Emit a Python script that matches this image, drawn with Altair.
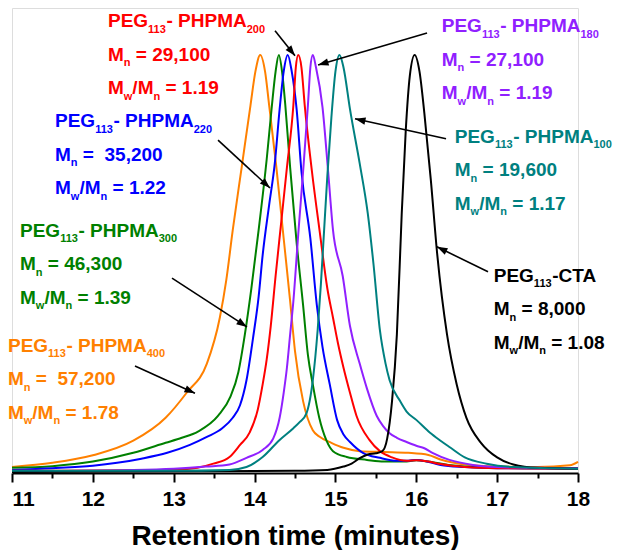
import math
import altair as alt
import pandas as pd

# ---------------- data (retention time in minutes, normalised RI response) ----------------
orange_t = [11.0, 11.5, 12.0, 12.5, 12.9, 13.16, 13.41, 13.57, 13.65, 13.73, 13.84, 13.95, 14.01, 14.07,
            14.13, 14.18, 14.27, 14.36, 14.44, 14.5, 14.6, 14.72, 14.8, 14.95, 15.1, 15.3, 15.6, 15.9,
            16.15, 16.3, 16.6, 17.0, 17.5, 17.9, 18.0]
orange_i = [0.012, 0.022, 0.04, 0.075, 0.13, 0.19, 0.26, 0.37, 0.46, 0.58, 0.73, 0.88, 0.96, 1.0,
            0.96, 0.88, 0.73, 0.56, 0.41, 0.29, 0.17, 0.10, 0.085, 0.07, 0.058, 0.05, 0.048, 0.046,
            0.041, 0.03, 0.018, 0.013, 0.012, 0.016, 0.024]

green_t = [11.0, 11.5, 12.0, 12.5, 12.9, 13.1, 13.3, 13.55, 13.7, 13.8, 13.88, 13.96, 14.05, 14.15,
           14.21, 14.26, 14.30, 14.34, 14.38, 14.44, 14.52, 14.6, 14.66, 14.72, 14.8, 14.89, 14.97,
           15.14, 15.39, 15.6, 15.85, 16.0, 16.15, 16.4, 16.8, 17.5, 18.0]
green_i = [0.01, 0.014, 0.025, 0.046, 0.07, 0.082, 0.097, 0.135, 0.18, 0.24, 0.33, 0.44, 0.58, 0.75,
           0.87, 0.96, 1.0, 0.96, 0.88, 0.73, 0.55, 0.40, 0.28, 0.21, 0.13, 0.075, 0.05,
           0.036, 0.029, 0.025, 0.025, 0.028, 0.025, 0.017, 0.011, 0.009, 0.009]

blue_t = [11.0, 11.5, 12.0, 12.3, 12.6, 12.92, 13.2, 13.41, 13.6, 13.73, 13.82, 13.9, 13.98, 14.05,
          14.1, 14.18, 14.25, 14.31, 14.36, 14.41, 14.46, 14.52, 14.58, 14.69, 14.77, 14.84, 14.93,
          15.02, 15.1, 15.18, 15.34, 15.55, 15.76, 15.9, 16.0, 16.12, 16.3, 16.6, 17.0, 18.0]
blue_i = [0.005, 0.009, 0.015, 0.022, 0.032, 0.046, 0.065, 0.084, 0.105, 0.13, 0.16, 0.22, 0.32, 0.42,
          0.52, 0.64, 0.74, 0.87, 0.96, 1.0, 0.96, 0.87, 0.72, 0.56, 0.40, 0.30, 0.21,
          0.125, 0.09, 0.072, 0.046, 0.034, 0.027, 0.027, 0.029, 0.026, 0.017, 0.012, 0.009, 0.008]

red_t = [11.0, 12.5, 13.1, 13.49, 13.69, 13.82, 13.94, 14.04, 14.1, 14.15, 14.2, 14.26, 14.33, 14.4,
         14.48, 14.51, 14.54, 14.58, 14.62, 14.71, 14.81, 14.9, 14.97, 15.03, 15.1, 15.18, 15.26,
         15.42, 15.55, 15.7, 15.88, 16.0, 16.15, 16.3, 16.6, 17.0, 18.0]
red_i = [0.003, 0.004, 0.006, 0.02, 0.036, 0.065, 0.095, 0.15, 0.21, 0.27, 0.35, 0.47, 0.60, 0.73,
         0.88, 0.97, 1.0, 0.97, 0.88, 0.72, 0.57, 0.44, 0.37, 0.31, 0.25, 0.19, 0.135,
         0.077, 0.05, 0.035, 0.027, 0.028, 0.025, 0.019, 0.012, 0.009, 0.008]

purple_t = [11.0, 12.5, 13.0, 13.4, 13.69, 13.9, 14.1, 14.23, 14.31, 14.36, 14.4, 14.44, 14.48, 14.54,
            14.6, 14.66, 14.69, 14.72, 14.76, 14.84, 14.91, 14.97, 15.09, 15.18, 15.3, 15.39, 15.51,
            15.59, 15.67, 15.76, 15.88, 16.0, 16.1, 16.2, 16.41, 16.7, 17.0, 17.5, 18.0]
purple_i = [0.002, 0.005, 0.008, 0.013, 0.018, 0.034, 0.053, 0.08, 0.13, 0.19, 0.25, 0.33, 0.41, 0.57,
            0.72, 0.88, 0.97, 1.0, 0.97, 0.875, 0.72, 0.58, 0.47, 0.35, 0.26, 0.20, 0.135,
            0.11, 0.093, 0.082, 0.072, 0.063, 0.057, 0.046, 0.029, 0.017, 0.012, 0.01, 0.009]

teal_t = [11.0, 13.0, 13.69, 13.9, 14.1, 14.31, 14.48, 14.56, 14.64, 14.72, 14.78, 14.82, 14.86, 14.9,
          14.95, 15.0, 15.05, 15.1, 15.18, 15.3, 15.4, 15.47, 15.55, 15.62, 15.67, 15.8, 15.88, 16.0,
          16.17, 16.3, 16.41, 16.6, 16.87, 17.2, 18.0]
teal_i = [0.003, 0.003, 0.005, 0.012, 0.036, 0.077, 0.105, 0.12, 0.14, 0.22, 0.34, 0.45, 0.58, 0.71,
          0.85, 0.96, 1.0, 0.97, 0.87, 0.74, 0.62, 0.50, 0.34, 0.26, 0.22, 0.17, 0.145, 0.125,
          0.094, 0.075, 0.06, 0.035, 0.02, 0.012, 0.008]

black_t = [11.0, 14.5, 14.9, 15.1, 15.2, 15.3, 15.4, 15.5, 15.58, 15.64, 15.7, 15.76, 15.82, 15.87,
           15.92, 15.98, 16.04, 16.1, 16.18, 16.26, 16.38, 16.5, 16.62, 16.8, 17.0, 17.2, 17.5, 18.0]
black_i = [0.0, 0.003, 0.005, 0.013, 0.02, 0.033, 0.042, 0.045, 0.05, 0.08, 0.17, 0.33, 0.62, 0.82,
           0.95, 1.0, 0.96, 0.86, 0.70, 0.52, 0.33, 0.21, 0.13, 0.07, 0.035, 0.018, 0.01, 0.008]

major_ticks = [11, 12, 13, 14, 15, 16, 17, 18]
minor_ticks = [11.5, 12.5, 13.5, 14.5, 15.5, 16.5, 17.5]

# annotation texts: (text, is_subscript)
lab_red = [[("PEG", 0), ("113", 1), ("- PHPMA", 0), ("200", 1)],
           [("M", 0), ("n", 1), (" = 29,100", 0)],
           [("M", 0), ("w", 1), ("/M", 0), ("n", 1), (" = 1.19", 0)]]
lab_blue = [[("PEG", 0), ("113", 1), ("- PHPMA", 0), ("220", 1)],
            [("M", 0), ("n", 1), (" =", 0), ("  35,200", 0)],
            [("M", 0), ("w", 1), ("/M", 0), ("n", 1), (" = 1.22", 0)]]
lab_green = [[("PEG", 0), ("113", 1), ("- PHPMA", 0), ("300", 1)],
             [("M", 0), ("n", 1), (" = 46,300", 0)],
             [("M", 0), ("w", 1), ("/M", 0), ("n", 1), (" = 1.39", 0)]]
lab_orange = [[("PEG", 0), ("113", 1), ("- PHPMA", 0), ("400", 1)],
              [("M", 0), ("n", 1), (" =", 0), ("  57,200", 0)],
              [("M", 0), ("w", 1), ("/M", 0), ("n", 1), (" = 1.78", 0)]]
lab_purple = [[("PEG", 0), ("113", 1), ("- PHPMA", 0), ("180", 1)],
              [("M", 0), ("n", 1), (" = 27,100", 0)],
              [("M", 0), ("w", 1), ("/M", 0), ("n", 1), (" = 1.19", 0)]]
lab_teal = [[("PEG", 0), ("113", 1), ("- PHPMA", 0), ("100", 1)],
            [("M", 0), ("n", 1), (" = 19,600", 0)],
            [("M", 0), ("w", 1), ("/M", 0), ("n", 1), (" = 1.17", 0)]]
lab_black = [[("PEG", 0), ("113", 1), ("-CTA", 0)],
             [("M", 0), ("n", 1), (" = 8,000", 0)],
             [("M", 0), ("w", 1), ("/M", 0), ("n", 1), (" = 1.08", 0)]]

# ---------------- layout / style ----------------
W, H = 566, 465
XMIN, XMAX = 11, 18
YMIN, YMAX = -0.0024, 1.1127
PXT = W / (XMAX - XMIN)
PXI = H / (YMAX - YMIN)
FONT = "Liberation Sans"
MAIN, SUB = 19, 11
LINE = 33.5      # px between text lines
SUBDROP = 5.5    # px subscript drop

C_OR, C_GR, C_BL, C_RD, C_PU, C_TE, C_BK = "#FF8000", "#008000", "#0000FF", "#FF0000", "#9020FF", "#008080", "#000000"

# (label, colour, anchor t, anchor I, arrow start (t,I), arrow tip (t,I))
blocks = [
    (lab_red, C_RD, 12.187, 1.066, (14.253, 1.058), (14.50, 0.998)),
    (lab_blue, C_BL, 11.532, 0.827, (13.548, 0.796), (14.191, 0.681)),
    (lab_green, C_GR, 11.099, 0.564, (12.979, 0.465), (13.906, 0.348)),
    (lab_orange, C_OR, 10.95, 0.288, (12.521, 0.254), (13.263, 0.189)),
    (lab_purple, C_PU, 16.315, 1.055, (16.133, 1.053), (14.785, 0.976)),
    (lab_teal, C_TE, 16.476, 0.789, (16.368, 0.799), (15.242, 0.847)),
    (lab_black, C_BK, 16.958, 0.456, (16.887, 0.480), (16.256, 0.540)),
]

CW = {'P': 667, 'E': 667, 'G': 778, 'C': 722, 'T': 611, 'A': 722, 'H': 722, 'M': 833,
      '-': 333, ' ': 278, '=': 584, ',': 278, '.': 278, '/': 278, 'n': 611, 'w': 778}
for d in "0123456789":
    CW[d] = 556

text_rows = []
arrow_rows = []
for lines, col, t0, i0, a0, a1 in blocks:
    for li, line in enumerate(lines):
        xp = 0.0
        for txt, sub in line:
            fs = SUB if sub else MAIN
            while txt.startswith(" "):
                xp += CW[" "] * fs / 1000
                txt = txt[1:]
            text_rows.append(dict(t=t0 + xp / PXT,
                                  I=i0 - (li * LINE + (SUBDROP if sub else 0)) / PXI,
                                  txt=txt, fs=fs, col=col))
            xp += sum(CW[c] for c in txt) * fs / 1000
    dx = (a1[0] - a0[0]) * PXT
    dy = -(a1[1] - a0[1]) * PXI
    ang = math.degrees(math.atan2(dx, -dy)) % 360
    arrow_rows.append(dict(t=a0[0], I=a0[1], t2=a1[0], I2=a1[1], ang=ang))

xscale = alt.Scale(domain=[XMIN, XMAX], nice=False, zero=False)
yscale = alt.Scale(domain=[YMIN, YMAX], nice=False, zero=False)

major_axis = alt.Axis(
    orient="bottom", values=major_ticks, format="d",
    tickSize=9, tickWidth=2, tickColor="black", domainWidth=2, domainColor="black",
    labelFont=FONT, labelFontSize=21, labelFontWeight="bold", labelColor="black",
    labelAlign={"condition": {"test": "datum.value <= 11", "value": "left"}, "value": "center"},
    labelPadding=6, labelFlush=False, labelOverlap=False, grid=False,
    title="Retention time (minutes)", titleFont=FONT, titleFontSize=28,
    titleFontWeight="bold", titleColor="black", titlePadding=13,
)
minor_axis = alt.Axis(
    orient="bottom", values=minor_ticks, tickSize=5, tickWidth=2, tickColor="black",
    domain=False, labels=False, grid=False, title=None,
)

series = [(orange_t, orange_i, C_OR), (green_t, green_i, C_GR), (blue_t, blue_i, C_BL),
          (red_t, red_i, C_RD), (purple_t, purple_i, C_PU), (black_t, black_i, C_BK),
          (teal_t, teal_i, C_TE)]

layers = []
for k, (ts, vs, col) in enumerate(series):
    df = pd.DataFrame({"t": ts, "I": vs})
    layers.append(
        alt.Chart(df).mark_line(color=col, strokeWidth=2, interpolate="monotone").encode(
            x=alt.X("t:Q", scale=xscale, axis=major_axis if k == 0 else None),
            y=alt.Y("I:Q", scale=yscale, axis=None),
        )
    )

mdf = pd.DataFrame({"t": minor_ticks, "I": [0.0] * len(minor_ticks)})
layers.append(
    alt.Chart(mdf).mark_point(opacity=0).encode(
        x=alt.X("t:Q", scale=xscale, axis=minor_axis),
        y=alt.Y("I:Q", scale=yscale, axis=None),
    )
)

adf = pd.DataFrame(arrow_rows)
layers.append(
    alt.Chart(adf).mark_rule(color="black", strokeWidth=1.6).encode(
        x=alt.X("t:Q", scale=xscale, axis=None), y=alt.Y("I:Q", scale=yscale, axis=None),
        x2="t2:Q", y2="I2:Q",
    )
)
layers.append(
    alt.Chart(adf).mark_point(shape="M0,0L-0.7,2L0.7,2Z", filled=True, color="black",
                              opacity=1, size=110).encode(
        x=alt.X("t2:Q", scale=xscale, axis=None), y=alt.Y("I2:Q", scale=yscale, axis=None),
        angle=alt.Angle("ang:Q", scale=None),
    )
)

tdf = pd.DataFrame(text_rows)
layers.append(
    alt.Chart(tdf).mark_text(align="left", baseline="alphabetic", font=FONT, fontWeight="bold").encode(
        x=alt.X("t:Q", scale=xscale, axis=None), y=alt.Y("I:Q", scale=yscale, axis=None),
        text="txt:N", size=alt.Size("fs:Q", scale=None), color=alt.Color("col:N", scale=None),
    )
)

chart = alt.layer(*layers).resolve_axis(x="independent").properties(
    width=W, height=H,
    padding={"left": 4, "top": 0, "right": 38, "bottom": 77},
    autosize=alt.AutoSizeParams(type="none"),
).configure_view(stroke=None).configure(background="white")

chart.save("out.html", embed_options={"renderer": "svg", "actions": False})
